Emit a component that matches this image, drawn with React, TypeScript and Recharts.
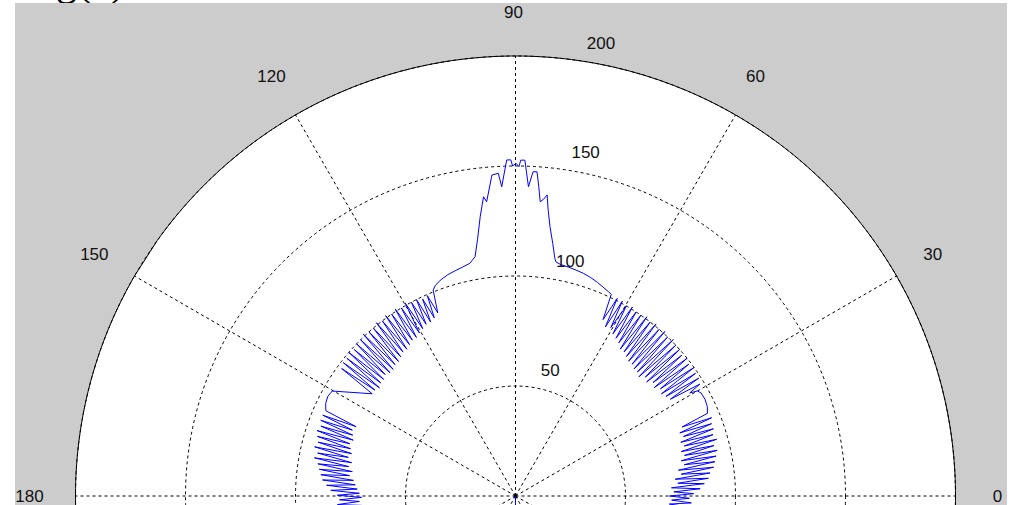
import React from 'react';
import { RadarChart, Radar, PolarGrid, PolarAngleAxis, PolarRadiusAxis } from 'recharts';

// Angle ticks (degrees) and radial ticks of the polar frame
const ANGLE_TICKS = [0, 30, 60, 90, 120, 150, 180, 210, 240, 270, 300, 330];
const RADIUS_TICKS = [0, 50, 100, 150, 200];
const R_MAX = 200;
const TITLE = 'g(θ)';

// Sample angles of g(θ), in degrees (the first run sits just below 0°, i.e. 354°..359.25°)
const THETA_DEG = [
  // right low band
  354, 354.75, 355.5, 356.25, 357, 357.75, 358.5, 359.25, 0, 0.75,
  1.5, 2.25, 3, 3.75, 4.5, 5.25, 6, 6.75, 7.5, 8.25,
  9, 9.75, 10.5, 11.25, 12, 12.75, 13.5, 14.25, 15, 15.75,
  16.5, 17.25, 18, 18.75, 19.5, 20.25, 21, 21.75, 22.5,
  // right smooth arc
  23.3, 25, 27, 29, 30, 30.6,
  // right upper band
  31.25, 32, 32.75, 33.5, 34.25, 35, 35.75, 36.5, 37.25, 38,
  38.75, 39.5, 40.25, 41, 41.75, 42.5, 43.25, 44, 44.75, 45.5,
  46.25, 47, 47.75, 48.5, 49.25, 50, 50.75, 51.5, 52.25, 53,
  53.75, 54.5, 55.25, 56, 56.75, 57.5, 58.25, 59, 59.75, 60.5,
  61.25, 62, 62.75, 63.6, 64.6,
  // right shoulder
  65.5, 67, 69, 71, 73, 75, 77, 79, 80.2,
  // main lobe
  80.6, 81.6, 82.7, 83.5, 84, 84.6, 85.2, 85.7, 86.2, 86.9,
  87.6, 88.4, 89.1, 89.4, 89.9, 90.5, 90.8, 91.5, 92.55, 93.05,
  94.2, 95.6, 96.1, 97.2, 98.4, 99.6,
  // left shoulder and notch
  101.1, 103, 105, 107, 109, 110.8, 111.8, 113, 113.75,
  // left upper band
  114.5, 115.25, 116, 116.75, 117.5, 118.25, 119, 119.75, 120.5, 121.25,
  122, 122.75, 123.5, 124.25, 125, 125.75, 126.5, 127.25, 128, 128.75,
  129.5, 130.25, 131, 131.75, 132.5, 133.25, 134, 134.75, 135.5, 136.25,
  137, 137.75, 138.5, 139.25, 140, 140.75, 141.5, 142.25, 143, 143.75,
  144.5,
  // left smooth arc
  150.2, 152, 154, 155.8,
  // left low band
  156.5, 157.25, 158, 158.75, 159.5, 160.25, 161, 161.75, 162.5, 163.25,
  164, 164.75, 165.5, 166.25, 167, 167.75, 168.5, 169.25, 170, 170.75,
  171.5, 172.25, 173, 173.75, 174.5, 175.25, 176, 176.75, 177.5, 178.25,
  179, 179.75, 180.5, 181.25, 182, 182.75, 183.5, 184.25, 185, 185.75,
  186.5,
];

// g(θ) at each sample angle
const GAIN = [
  // right low band
  72, 82, 71, 81, 70, 80, 71, 79, 70, 81,
  72, 84, 71, 86, 74, 88, 73, 89, 76, 91,
  75, 92, 78, 93, 77, 94, 79, 93, 78, 95,
  80, 94, 79, 95, 81, 95, 80, 96, 82,
  // right smooth arc
  95, 96.2, 96.7, 96.5, 95.5, 92,
  // right upper band
  98, 83, 99, 82, 99, 81, 100, 82, 99, 80,
  100, 81, 99, 79, 100, 80, 100, 78, 101, 79,
  100, 79, 101, 80, 100, 80, 101, 81, 100, 82,
  101, 82, 100, 84, 100, 85, 101, 86, 100, 88,
  101, 87, 101, 89.5, 101.5,
  // right shoulder
  102, 102.8, 104, 105, 105.8, 106.3, 106.8, 107.2, 108,
  // main lobe
  109.5, 116, 123.4, 131, 137.6, 135.5, 134.2, 141, 147.7, 147.6,
  140.7, 152.7, 152.7, 149.7, 151.2, 150, 152.8, 152.8, 140.7, 146.9,
  146.3, 134.4, 136.8, 128, 118, 110.3,
  // left shoulder and notch
  107.8, 106.8, 106, 105.2, 104, 102.5, 100.8, 90.4, 99.5,
  // left upper band
  89, 99, 88, 100, 88, 100, 87, 101, 86, 100,
  85, 101, 85, 100, 84, 101, 83, 100, 83, 101,
  82, 100, 81, 100, 81, 101, 80, 100, 80, 100,
  81, 99, 80, 100, 80, 99, 79, 99, 80, 98,
  80,
  // left smooth arc
  96, 96.6, 96, 94.5,
  // left low band
  79, 95, 80, 95, 79, 94, 78, 95, 79, 94,
  78, 93, 77, 94, 78, 92, 76, 93, 77, 91,
  75, 90, 76, 89, 74, 88, 73, 86, 72, 84,
  71, 81, 70, 80, 71, 81, 70, 80, 71, 79,
  72,
];

const rows = THETA_DEG.map((theta, i) => ({ theta, g: GAIN[i], rim: R_MAX }));

const LABEL_FONT = '"Liberation Sans", Arial, Helvetica, sans-serif';
const LABEL_SIZE = 17;

const renderAngleTick = (props: any) => {
  const { x, y, payload } = props;
  return (
    <text
      x={x - 2}
      y={y}
      textAnchor="middle"
      dominantBaseline="central"
      fontSize={LABEL_SIZE}
      fontFamily={LABEL_FONT}
      fill="#111"
    >
      {payload.value}
    </text>
  );
};

const renderRadiusTick = (props: any) => {
  const { x, y, payload } = props;
  if (payload.value === 0) return <g />;
  return (
    <text
      x={x + 10}
      y={y - 17}
      textAnchor="start"
      dominantBaseline="central"
      fontSize={LABEL_SIZE}
      fontFamily={LABEL_FONT}
      fill="#111"
    >
      {payload.value}
    </text>
  );
};

export default function App() {
  return (
    <div
      style={{
        position: 'absolute',
        left: 0,
        top: 0,
        width: 1014,
        height: 505,
        overflow: 'hidden',
        background: '#ffffff',
      }}
    >
      <div
        style={{
          position: 'absolute',
          left: 56,
          top: -43,
          fontFamily: '"Liberation Serif", "Times New Roman", serif',
          fontSize: 42,
          lineHeight: 'normal',
          color: '#000',
          whiteSpace: 'nowrap',
        }}
      >
        {TITLE}
      </div>
      <div
        style={{
          position: 'absolute',
          left: 15,
          top: 3,
          width: 992,
          height: 502,
          background: '#cccccc',
          overflow: 'hidden',
        }}
      >
        <RadarChart
          width={992}
          height={502}
          data={rows}
          cx={500.5}
          cy={493}
          innerRadius={0}
          outerRadius={440}
          startAngle={0}
          endAngle={360}
          margin={{ top: 0, right: 0, bottom: 0, left: 0 }}
        >
          <PolarAngleAxis
            dataKey="theta"
            type="number"
            domain={[0, 360]}
            allowDataOverflow
            ticks={ANGLE_TICKS}
            tickCount={13}
            axisLine={false}
            tickLine={false}
            tickSize={44}
            tick={renderAngleTick}
          />
          <PolarRadiusAxis
            angle={82}
            type="number"
            domain={[0, R_MAX]}
            ticks={RADIUS_TICKS}
            tickCount={5}
            axisLine={false}
            tickLine={false}
            tick={renderRadiusTick}
          />
          <Radar
            dataKey="rim"
            fill="#ffffff"
            fillOpacity={1}
            stroke="#000000"
            strokeWidth={1}
            dot={false}
            isAnimationActive={false}
            zIndex={-300}
          />
          <PolarGrid
            gridType="circle"
            polarAngles={ANGLE_TICKS}
            stroke="#000000"
            strokeDasharray="3 3"
            zIndex={-50}
          />
          <PolarGrid
            gridType="circle"
            polarAngles={[270]}
            polarRadius={[]}
            stroke="#0000ff"
            zIndex={-40}
          />
          <Radar
            dataKey="g"
            fill="none"
            fillOpacity={0}
            stroke="#0000ff"
            strokeWidth={1}
            dot={false}
            isAnimationActive={false}
          />
        </RadarChart>
      </div>
    </div>
  );
}
